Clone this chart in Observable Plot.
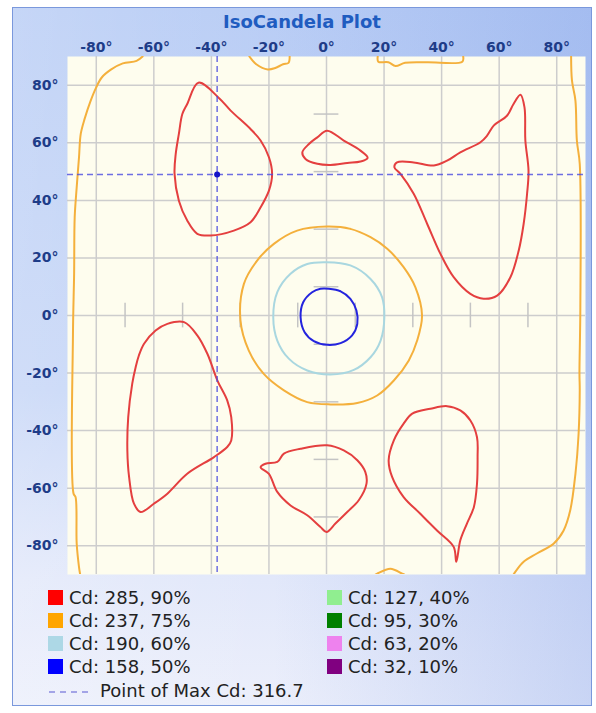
<!DOCTYPE html>
<html><head><meta charset="utf-8">
<script src="https://cdn.jsdelivr.net/npm/d3@7"></script>
<script src="https://cdn.jsdelivr.net/npm/@observablehq/plot@0.6"></script>
<style>
body{margin:0;background:#fff;}
#wrap{position:relative;width:596px;height:713px;overflow:hidden;font-family:"DejaVu Sans",sans-serif;}
#frame{position:absolute;left:12px;top:7px;width:578px;height:697px;border:1px solid #7a98dc;
 background:
  linear-gradient(to right, rgba(255,255,255,0.18), rgba(255,255,255,0) 45%, rgba(110,145,228,0.28) 100%),
  linear-gradient(to bottom, #b9cdf5 0%, #c6d6f7 55%, #e2e8fa 82%, #eceffb 100%);}
#title{position:absolute;left:12px;width:580px;top:10px;text-align:center;font-weight:bold;font-size:18px;line-height:24px;color:#1f5cc0;}
#chart{position:absolute;left:0;top:0;}
.item{position:absolute;font-size:18px;line-height:22px;color:#222;white-space:nowrap;}
.sw{position:absolute;width:15px;height:15px;}
</style>
</head><body>
<div id="wrap">
  <div id="frame"></div>
  <div id="title">IsoCandela Plot</div>
  <div id="chart"></div>
  <div id="legend"></div>
</div>
<script>
// ---- data ----
const xTicks = [-80,-60,-40,-20,0,20,40,60,80];
const yTicks = [-80,-60,-40,-20,0,20,40,60,80];
const markerTicks = [-70,-50,-30,-10,10,30,50,70];
const markerHalf = 4.3;
const maxPoint = {x: -38, y: 49, cd: 316.7};

const legendLabels = ["Cd: 285, 90%","Cd: 237, 75%","Cd: 190, 60%","Cd: 158, 50%","Cd: 127, 40%","Cd: 95, 30%","Cd: 63, 20%","Cd: 32, 10%"];
const legendColors = ["#ff0000","#ffa500","#add8e6","#0000ff","#90ee90","#008000","#ee82ee","#800080"];

// 90% contours (red), closed loops
const redUpperLeft = [[-44.5,80.9],[-37.4,75.6],[-33.3,71.2],[-26.4,64.8],[-22.9,60.8],[-20.0,55.0],[-18.9,49.2],[-20.0,43.4],[-22.9,37.6],[-26.4,32.4],[-32.2,29.5],[-40.3,27.8],[-44.9,28.4],[-48.4,33.0],[-51.3,39.9],[-52.8,49.2],[-52.4,56.1],[-51.3,63.1],[-50.1,70.0],[-48.4,73.5]];
const redTopCenter = [[0.2,64.2],[6.0,60.8],[11.8,57.3],[14.3,54.8],[11.8,53.5],[7.2,53.0],[1.4,52.3],[-3.2,52.7],[-7.3,54.4],[-8.4,56.7],[-6.1,59.6],[-3.2,61.9]];
const redUpperRight = [[67.4,76.7],[68.8,72.3],[69.1,60.8],[70.2,50.3],[69.7,42.3],[68.5,31.8],[66.8,22.6],[63.9,13.3],[59.3,6.9],[54.6,5.8],[50.0,7.5],[44.2,13.3],[39.6,21.4],[35.0,31.8],[30.3,42.3],[25.7,49.2],[23.6,51.5],[24.5,53.2],[30.3,53.2],[37.3,52.1],[41.9,53.8],[46.5,56.7],[53.5,60.2],[55.8,62.5],[58.1,66.0],[62.7,69.4],[65.0,73.5]];
const redLowerLeft = [[-49.5,-2.3],[-44.9,-6.9],[-41.4,-13.3],[-37.9,-22.6],[-34.5,-29.5],[-33.1,-35.3],[-33.1,-43.4],[-34.5,-45.7],[-39.1,-49.2],[-48.4,-55.0],[-55.3,-61.9],[-60.0,-65.4],[-64.6,-68.3],[-66.9,-65.4],[-68.6,-56.1],[-69.2,-46.9],[-68.9,-35.3],[-67.5,-23.7],[-66.3,-17.9],[-65.2,-13.9],[-63.4,-9.8],[-59.4,-5.2],[-55.3,-2.9]];
const redLowerCenter = [[0,-75.2],[-2.1,-73.5],[-6.7,-69.4],[-12.5,-66.0],[-17.1,-61.3],[-20.0,-55.0],[-22.9,-52.7],[-21.2,-51.5],[-17.1,-50.9],[-14.8,-48.0],[-9.0,-46.3],[0.2,-45.1],[6.0,-46.9],[10.7,-50.3],[13.5,-54.4],[13.9,-58.4],[11.2,-64.2],[7.2,-68.3],[3.1,-72.3]];
const redLowerRight = [[45.1,-85.6],[44.2,-80.4],[38.4,-74.7],[32.6,-68.9],[26.8,-63.1],[22.8,-56.1],[21.6,-50.3],[23.4,-43.4],[26.8,-37.6],[29.8,-34.1],[36.1,-32.4],[41.9,-31.5],[46.5,-33.0],[50.0,-36.5],[52.3,-42.3],[52.5,-49.2],[52.3,-58.4],[51.2,-66.6],[48.8,-72.3],[46.5,-78.1]];

// 75% contours (orange): one closed ring and open pieces along the edges
const orangeInner = [[0.2,30.9],[8.3,30.1],[15.3,27.2],[21.1,23.2],[26.8,16.8],[30.9,9.8],[33.2,0],[31.5,-8.7],[28.6,-15.6],[23.4,-22.6],[17.6,-27.8],[10.7,-30.4],[1.4,-30.9],[-6.7,-30.1],[-14.8,-26.0],[-21.8,-20.3],[-27.0,-12.2],[-29.9,-1.7],[-28.7,11.0],[-24.1,19.1],[-18.3,24.9],[-10.2,29.5]];
const orangeLeft = [[-63.9,90],[-66.0,88.5],[-70.8,87.6],[-74.8,85.5],[-78.1,82.7],[-80.1,79.1],[-82.0,74.5],[-84.0,68.5],[-85.4,63.1],[-86.0,55.0],[-86.8,44.6],[-87.5,34.1],[-87.7,14.5],[-88.1,-6.4],[-87.9,-61.9],[-87.2,-63.1],[-86.8,-79.3],[-86.0,-87.4],[-85.6,-90]];
const orangeTopCenter = [[-26.8,90],[-24.4,87.3],[-20.4,85.5],[-17.8,86.0],[-15.1,87.3],[-13.2,87.8],[-12.8,90]];
const orangeTopRight = [[17.8,90],[18.0,88.2],[21.5,88.0],[24.0,86.7],[27.3,87.8],[35.0,88.0],[47.2,88.2],[47.5,90]];
const orangeRight = [[85.0,90],[85.3,81.6],[86.5,74.7],[87.0,60.8],[88.0,52.7],[88.2,1.7],[87.9,-20.0],[88.0,-26.0],[87.6,-41.1],[86.5,-55.0],[84.7,-67.7],[82.4,-74.7],[78.9,-79.3],[73.1,-82.7],[68.5,-85.6],[65.6,-89.1],[65.0,-90]];
const orangeBottom = [[17.0,-90],[17.6,-89.7],[22.2,-88.0],[26.3,-89.7],[27.0,-90]];

// 60% contour (light blue)
const lightBlueRing = [[0,18.5],[8.3,17.4],[15.3,12.7],[19.3,6.4],[20.1,-0.6],[18.8,-8.7],[15.3,-14.5],[9.5,-18.9],[1.4,-20.5],[-6.7,-19.1],[-13.1,-15.0],[-17.1,-8.7],[-18.5,-0.6],[-17.1,8.1],[-12.5,14.5],[-6.7,17.9]];
// 50% contour (blue)
const blueRing = [[0.8,9.3],[4.9,8.4],[8.3,5.8],[10.4,1.7],[10.7,-2.9],[8.9,-6.9],[4.9,-9.6],[0.2,-10.2],[-4.4,-8.9],[-7.6,-5.8],[-9.0,-0.6],[-8.1,4.6],[-5.0,8.1],[-2.1,9.3]];

const redSet = [redUpperLeft, redTopCenter, redUpperRight, redLowerLeft, redLowerCenter, redLowerRight];
const orangeOpen = [orangeLeft, orangeTopCenter, orangeTopRight, orangeRight, orangeBottom];

// ---- chart ----
const closedOpts = (stroke) => ({x: d => d[0], y: d => d[1], stroke, strokeWidth: 2, strokeLinejoin: "round", curve: "catmull-rom-closed", clip: "frame"});
const openOpts = (stroke) => ({x: d => d[0], y: d => d[1], stroke, strokeWidth: 2, strokeLinejoin: "round", curve: "catmull-rom", clip: "frame"});
const gridStyle = {stroke: "#cdcdcd", strokeOpacity: 1, strokeWidth: 1.5};
const dashStyle = {stroke: "#4a4ae0", strokeOpacity: 0.8, strokeWidth: 1.5, strokeDasharray: "6,4"};

const chart = Plot.plot({
  width: 596, height: 580,
  marginLeft: 67, marginRight: 11, marginTop: 56, marginBottom: 6,
  x: {domain: [-90, 90], label: null},
  y: {domain: [-90, 90], label: null},
  style: {background: "transparent", fontFamily: "DejaVu Sans, sans-serif", color: "#1e3c88", overflow: "visible"},
  marks: [
    Plot.frame({fill: "#fefdee", stroke: "none"}),
    Plot.gridX(xTicks, gridStyle),
    Plot.gridY(yTicks, gridStyle),
    Plot.ruleX(markerTicks, {x: d => d, y1: () => -markerHalf, y2: () => markerHalf, stroke: "#c4c4c4", strokeWidth: 1.5}),
    Plot.ruleY(markerTicks, {y: d => d, x1: () => -markerHalf, x2: () => markerHalf, stroke: "#c4c4c4", strokeWidth: 1.5}),
    ...orangeOpen.map(c => Plot.line(c, openOpts("#f4b03c"))),
    Plot.line(orangeInner, closedOpts("#f4b03c")),
    Plot.line(lightBlueRing, closedOpts("#a9d7e0")),
    Plot.line(blueRing, closedOpts("#2424de")),
    ...redSet.map(c => Plot.line(c, closedOpts("#e43f3f"))),
    Plot.ruleX([maxPoint], {x: "x", ...dashStyle}),
    Plot.ruleY([maxPoint], {y: "y", ...dashStyle}),
    Plot.dot([maxPoint], {x: "x", y: "y", r: 3, fill: "#1414c8"}),
    Plot.axisX(xTicks, {anchor: "top", label: null, tickSize: 0, tickPadding: 5, tickFormat: d => `${d}°`, fontSize: 14, fontWeight: "bold", fill: "#1e3c88"}),
    Plot.axisY(yTicks, {anchor: "left", label: null, tickSize: 0, tickPadding: 9, tickFormat: d => `${d}°`, fontSize: 14, fontWeight: "bold", fill: "#1e3c88"})
  ]
});
document.getElementById("chart").appendChild(chart);

// ---- legend ----
const legend = document.getElementById("legend");
const rowTop = 587, rowStep = 23;
legendLabels.forEach((lab, i) => {
  const col = Math.floor(i / 4), row = i % 4;
  const left = col === 0 ? 48 : 327;
  const top = rowTop + row * rowStep;
  const sw = document.createElement("div");
  sw.className = "sw";
  sw.style.left = left + "px"; sw.style.top = (top + 3) + "px";
  sw.style.background = legendColors[i];
  legend.appendChild(sw);
  const t = document.createElement("div");
  t.className = "item";
  t.style.left = (left + 21) + "px"; t.style.top = top + "px";
  t.textContent = lab;
  legend.appendChild(t);
});
const maxRow = document.createElement("div");
maxRow.className = "item";
maxRow.style.left = "48px"; maxRow.style.top = (rowTop + 4 * rowStep + 1) + "px";
maxRow.innerHTML = `<svg width="44" height="12" style="vertical-align:middle;margin-right:8px"><line x1="1" y1="6" x2="44" y2="6" stroke="#8a8ae0" stroke-width="1.5" stroke-dasharray="6,5"/></svg>`;
maxRow.appendChild(document.createTextNode(`Point of Max Cd: ${maxPoint.cd}`));
legend.appendChild(maxRow);
</script>
</body></html>
